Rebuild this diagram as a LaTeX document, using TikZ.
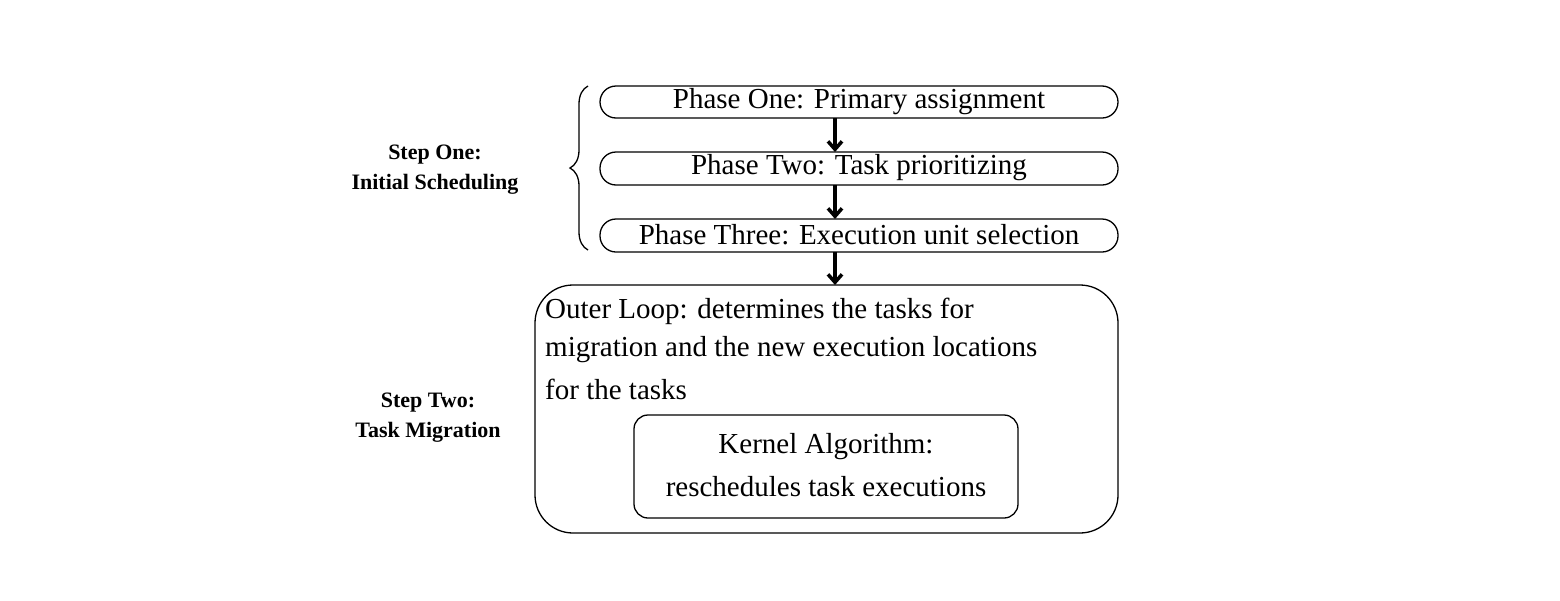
\documentclass[tikz,border=0pt]{standalone}
\usepackage{fontspec}
\setmainfont{Liberation Serif}
\usetikzlibrary{decorations.pathreplacing,arrows.meta}
\begin{document}
\begin{tikzpicture}[x=1pt,y=-1pt,
 phase/.style={draw,line width=1.3pt,rounded corners=16pt},
 big/.style={draw,line width=1.3pt,rounded corners=38pt},
 inner/.style={draw,line width=1.3pt,rounded corners=14pt},
 txt/.style={font=\fontsize{29}{33}\selectfont,inner sep=0pt},
 lab/.style={font=\fontsize{22}{26}\selectfont\bfseries,align=center,inner sep=0pt},
 arr/.style={-{Straight Barb[length=8pt,width=14pt]},line width=3.5pt}]
\useasboundingbox (0,0) rectangle (1560,600);
\draw[phase] (600,86) rectangle (1118,118);
\node[txt] (p1) at (859,102) {Phase One: Primary assignment};
\draw[phase] (600,152) rectangle (1118,185);
\node[txt] (p2) at (859,168) {Phase Two: Task prioritizing};
\draw[phase] (600,219) rectangle (1118,252);
\node[txt] (p3) at (859,235) {Phase Three: Execution unit selection};
\coordinate (a1) at (835,118); \coordinate (b1) at (835,152);
\coordinate (a2) at (835,185); \coordinate (b2) at (835,219);
\coordinate (a3) at (835,252); \coordinate (b3) at (835,285);
\draw[arr] (a1) -- (b1);
\draw[arr] (a2) -- (b2);
\draw[arr] (a3) -- (b3);
\draw[big] (535,285) rectangle (1118,533);
\node[txt,anchor=west] (o1) at (545,311) {Outer Loop: determines the tasks for};
\node[txt,anchor=west] (o2) at (545,350) {migration and the new execution locations};
\node[txt,anchor=west] (o3) at (545,389) {for the tasks};
\draw[inner] (634,415) rectangle (1018,518);
\node[txt] (k1) at (826,447) {Kernel Algorithm:};
\node[txt] (k2) at (826,487) {reschedules task executions};
\node[lab] (s1) at (435,170) {Step One:\\[4pt]Initial Scheduling};
\node[lab] (s2) at (428,418) {Step Two:\\[4pt]Task Migration};
\draw[line width=1.3pt,decorate,decoration={brace,amplitude=18pt}] (588,250) -- (588,86);
\end{tikzpicture}
\end{document}
